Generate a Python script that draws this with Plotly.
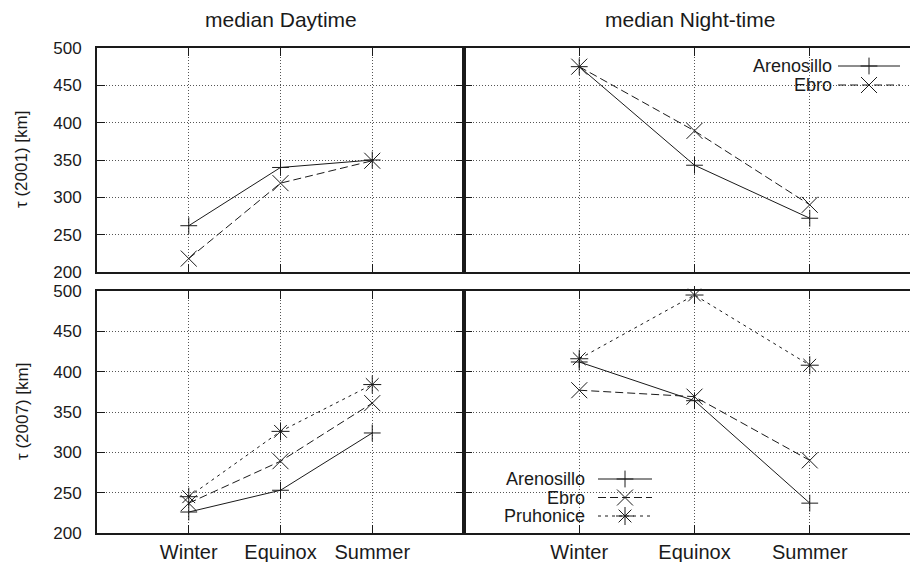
import plotly.graph_objects as go

# ---------------- data ----------------
seasons = ["Winter", "Equinox", "Summer"]
y_ticks = [200, 250, 300, 350, 400, 450, 500]

areno_2001_day = [262, 340, 350]
ebro_2001_day = [218, 319, 349]
areno_2001_night = [475, 343, 272]
ebro_2001_night = [475, 389, 290]

areno_2007_day = [226, 253, 324]
ebro_2007_day = [237, 289, 361]
pruh_2007_day = [245, 326, 384]
areno_2007_night = [412, 364, 237]
ebro_2007_night = [377, 369, 290]
pruh_2007_night = [416, 495, 408]

station_names = ["Arenosillo", "Ebro", "Pruhonice"]

# ---------------- style ----------------
W, H = 910, 562
FONT = "Liberation Sans, Arial, Helvetica, sans-serif"
INK = "#1a1a1a"
GRID = "#555555"
styles = {
    "Arenosillo": dict(dash="solid", symbol="cross-thin-open", size=12),
    "Ebro": dict(dash="8px,4px", symbol="x-thin-open", size=16),
    "Pruhonice": dict(dash="3px,4px", symbol="asterisk-open", size=15),
}

def px_x(p):
    return p / W

def px_y(p):
    return 1 - p / H

fig = go.Figure()

def add_series(name, xs, ys, xa, ya):
    st = styles[name]
    fig.add_trace(go.Scatter(
        x=xs, y=ys, mode="lines+markers", name=name, showlegend=False,
        xaxis=xa, yaxis=ya,
        line=dict(color=INK, width=1, dash=st["dash"]),
        marker=dict(symbol=st["symbol"], size=st["size"], color=INK,
                    line=dict(color=INK, width=1)),
        cliponaxis=False,
    ))

add_series("Arenosillo", seasons, areno_2001_day, "x", "y")
add_series("Ebro", seasons, ebro_2001_day, "x", "y")
add_series("Arenosillo", seasons, areno_2001_night, "x2", "y2")
add_series("Ebro", seasons, ebro_2001_night, "x2", "y2")
add_series("Arenosillo", seasons, areno_2007_day, "x3", "y3")
add_series("Ebro", seasons, ebro_2007_day, "x3", "y3")
add_series("Pruhonice", seasons, pruh_2007_day, "x3", "y3")
add_series("Arenosillo", seasons, areno_2007_night, "x4", "y4")
add_series("Ebro", seasons, ebro_2007_night, "x4", "y4")
add_series("Pruhonice", seasons, pruh_2007_night, "x4", "y4")

# layout geometry (pixels)
LEFT, MID, RIGHT = 97, 464, 910
TOP1, BOT1 = 48, 272
TOP2, BOT2 = 291, 533

xdom_l = [px_x(LEFT), px_x(MID)]
xdom_r = [px_x(MID), 1.0]
ydom_t = [px_y(BOT1), px_y(TOP1)]
ydom_b = [px_y(BOT2), px_y(TOP2)]

common_x = dict(type="category", categoryorder="array", categoryarray=seasons,
                showline=True, linecolor=INK, linewidth=2,
                ticks="inside", ticklen=8, tickwidth=1, tickcolor=INK,
                showgrid=True, gridcolor=GRID, gridwidth=1, griddash="1px,2px",
                zeroline=False, fixedrange=True, automargin=False,
                tickfont=dict(family=FONT, size=20, color=INK),
                ticklabelstandoff=0)
common_y = dict(range=[200, 500], tickvals=y_ticks,
                showline=True, linecolor=INK, linewidth=2,
                ticks="inside", ticklen=8, tickwidth=1, tickcolor=INK,
                showgrid=True, gridcolor=GRID, gridwidth=1, griddash="1px,2px",
                zeroline=False, fixedrange=True, automargin=False,
                tickfont=dict(family=FONT, size=17, color=INK),
                ticklabelstandoff=10)

# right panel: same spacing per category as the frame would have if it went to x=925
right_range = [-1, -1 + (RIGHT - MID) / ((925 - MID) / 4)]

fig.update_layout(
    template="none",
    width=W, height=H, margin=dict(l=0, r=0, t=0, b=0, autoexpand=False),
    paper_bgcolor="white", plot_bgcolor="rgba(0,0,0,0)",
    showlegend=False,
    xaxis=dict(common_x, domain=xdom_l, anchor="y", range=[-1, 3], mirror="ticks", showticklabels=False),
    yaxis=dict(common_y, domain=ydom_t, anchor="x", mirror="ticks"),
    xaxis2=dict(common_x, domain=xdom_r, anchor="y2", range=right_range, mirror="ticks", showticklabels=False),
    yaxis2=dict(common_y, domain=ydom_t, anchor="x2", mirror=False, showticklabels=False),
    xaxis3=dict(common_x, domain=xdom_l, anchor="y3", range=[-1, 3], mirror="ticks"),
    yaxis3=dict(common_y, domain=ydom_b, anchor="x3", mirror="ticks"),
    xaxis4=dict(common_x, domain=xdom_r, anchor="y4", range=right_range, mirror="ticks"),
    yaxis4=dict(common_y, domain=ydom_b, anchor="x4", mirror=False, showticklabels=False),
    # overlay axis in pixel units for the key samples
    xaxis5=dict(domain=[0, 1], range=[0, W], visible=False, fixedrange=True, anchor="y5", automargin=False),
    yaxis5=dict(domain=[0, 1], range=[H, 0], visible=False, fixedrange=True, anchor="x5", automargin=False),
)

# opaque key boxes hiding the grid
fig.add_shape(type="rect", xref="paper", yref="paper", layer="between",
              x0=px_x(722), x1=1.0, y0=px_y(98), y1=px_y(TOP1 + 1),
              fillcolor="white", line=dict(width=0))
fig.add_shape(type="rect", xref="paper", yref="paper", layer="between",
              x0=px_x(MID + 1), x1=px_x(663), y0=px_y(BOT2 - 1), y1=px_y(468),
              fillcolor="white", line=dict(width=0))

# key entries
def key_entry(name, text_right, line_x0, line_x1, row_y):
    st = styles[name]
    xm = (line_x0 + line_x1) / 2
    fig.add_trace(go.Scatter(
        x=[line_x0, line_x1], y=[row_y, row_y], mode="lines", xaxis="x5", yaxis="y5",
        line=dict(color=INK, width=1, dash=st["dash"]), showlegend=False, hoverinfo="skip"))
    fig.add_trace(go.Scatter(
        x=[xm], y=[row_y], mode="markers", xaxis="x5", yaxis="y5",
        marker=dict(symbol=st["symbol"], size=st["size"], color=INK, line=dict(color=INK, width=1)),
        showlegend=False, hoverinfo="skip"))
    fig.add_annotation(xref="paper", yref="paper", x=px_x(text_right), y=px_y(row_y),
                       xanchor="right", yanchor="middle", showarrow=False, text=name,
                       font=dict(family=FONT, size=18, color=INK))

for i, nm in enumerate(station_names[:2]):
    key_entry(nm, 834, 838, 900, 66 + 19 * i)
for i, nm in enumerate(station_names):
    key_entry(nm, 587, 598, 652, 479 + 18.5 * i)

# titles
fig.add_annotation(xref="paper", yref="paper", x=px_x(281), y=px_y(20), xanchor="center", yanchor="middle",
                   showarrow=False, text="median Daytime", font=dict(family=FONT, size=21, color=INK))
fig.add_annotation(xref="paper", yref="paper", x=px_x(690), y=px_y(20), xanchor="center", yanchor="middle",
                   showarrow=False, text="median Night-time", font=dict(family=FONT, size=21, color=INK))
fig.add_annotation(xref="paper", yref="paper", x=px_x(22), y=px_y(160), xanchor="center", yanchor="middle",
                   showarrow=False, textangle=-90, text="τ (2001) [km]", font=dict(family=FONT, size=17, color=INK))
fig.add_annotation(xref="paper", yref="paper", x=px_x(22), y=px_y(412), xanchor="center", yanchor="middle",
                   showarrow=False, textangle=-90, text="τ (2007) [km]", font=dict(family=FONT, size=17, color=INK))

fig.write_html(
    "out.html",
    config={"displayModeBar": False},
    post_script="document.body.style.margin='0px';document.body.style.overflow='hidden';",
)
